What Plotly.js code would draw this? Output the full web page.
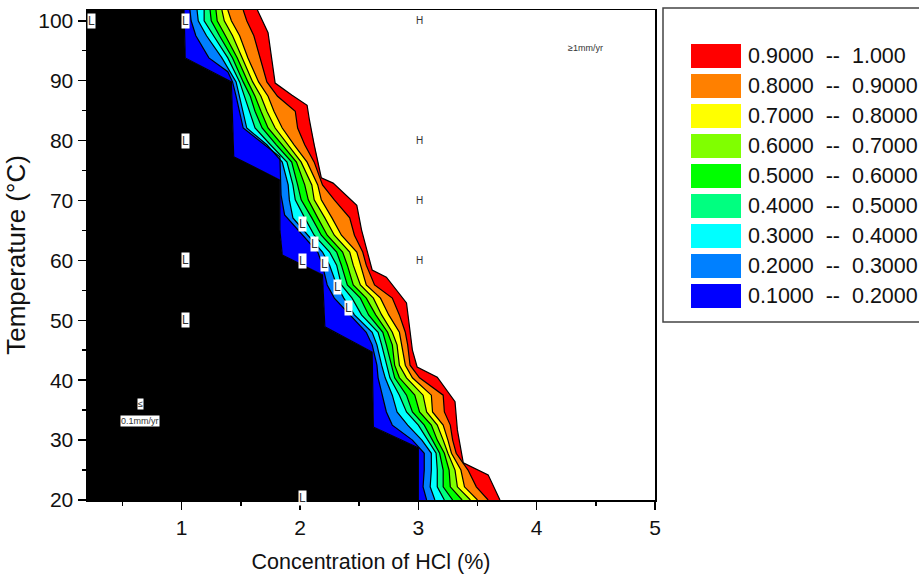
<!DOCTYPE html>
<html>
<head>
<meta charset="utf-8">
<script src="https://cdn.plot.ly/plotly-3.0.1.min.js"></script>
<style>html,body{margin:0;padding:0;background:#fff;}#chart{width:919px;height:574px;}</style>
</head>
<body>
<div id="chart"></div>
<script>
// ---- data: isocorrosion boundaries (concentration of HCl %, temperature °C) ----
// level 0.1 boundary
const iso01T = [101.8, 93.8, 89.8, 77.3, 73.4, 65.1, 60.9, 57.6, 48.9, 44.7, 32.2, 28.7, 20.0];
const iso01C = [1.02, 1.03, 1.42, 1.44, 1.83, 1.83, 1.85, 2.19, 2.21, 2.61, 2.62, 3.00, 3.00];
// level 0.2 boundary
const iso02T = [101.8, 100.0, 97.5, 93.8, 91.5, 89.8, 87.4, 82.1, 77.3, 70.9, 67.6, 61.4, 59.2, 55.9, 53.7, 48.0, 45.9, 42.5, 40.4, 34.7, 32.5, 30.0, 27.8, 25.0, 22.2, 20.0];
const iso02C = [1.07, 1.08, 1.12, 1.23, 1.39, 1.43, 1.46, 1.52, 1.83, 1.84, 1.87, 2.15, 2.19, 2.23, 2.29, 2.56, 2.61, 2.65, 2.66, 2.73, 2.78, 2.95, 3.05, 3.05, 3.04, 3.07];
// levels 0.3 ... 0.9 share the same temperature rows
const bandT = [101.8, 100.0, 97.5, 93.8, 89.8, 87.4, 84.9, 82.1, 79.3, 76.4, 72.6, 70.1, 67.1, 64.2, 61.4, 59.2, 55.9, 53.7, 50.9, 48.0, 45.9, 42.5, 40.4, 37.5, 34.7, 32.5, 30.0, 27.8, 25.0, 22.2, 20.0];
const iso03C = [1.13, 1.14, 1.21, 1.34, 1.46, 1.49, 1.52, 1.55, 1.72, 1.85, 1.90, 1.91, 1.94, 2.07, 2.19, 2.25, 2.31, 2.37, 2.46, 2.61, 2.65, 2.69, 2.72, 2.78, 2.82, 2.91, 3.03, 3.11, 3.11, 3.10, 3.14];
const iso04C = [1.19, 1.19, 1.27, 1.39, 1.49, 1.53, 1.57, 1.62, 1.75, 1.89, 1.94, 1.96, 2.04, 2.12, 2.25, 2.31, 2.35, 2.44, 2.52, 2.66, 2.69, 2.73, 2.76, 2.84, 2.90, 3.00, 3.08, 3.15, 3.16, 3.16, 3.22];
const iso05C = [1.24, 1.25, 1.32, 1.43, 1.52, 1.58, 1.62, 1.68, 1.80, 1.93, 1.98, 2.01, 2.10, 2.18, 2.31, 2.35, 2.40, 2.51, 2.58, 2.70, 2.73, 2.77, 2.80, 2.90, 2.95, 3.05, 3.12, 3.18, 3.21, 3.21, 3.29];
const iso06C = [1.29, 1.30, 1.37, 1.47, 1.56, 1.62, 1.67, 1.73, 1.85, 1.97, 2.04, 2.07, 2.15, 2.23, 2.36, 2.40, 2.45, 2.56, 2.64, 2.74, 2.78, 2.80, 2.84, 2.97, 3.01, 3.11, 3.16, 3.22, 3.26, 3.27, 3.37];
const iso07C = [1.34, 1.36, 1.43, 1.51, 1.60, 1.67, 1.72, 1.79, 1.90, 2.01, 2.10, 2.12, 2.21, 2.29, 2.42, 2.45, 2.51, 2.62, 2.69, 2.78, 2.82, 2.84, 2.90, 3.04, 3.07, 3.16, 3.21, 3.25, 3.31, 3.33, 3.44];
const iso08C = [1.39, 1.42, 1.49, 1.56, 1.65, 1.73, 1.78, 1.85, 1.95, 2.06, 2.15, 2.18, 2.27, 2.35, 2.48, 2.51, 2.56, 2.68, 2.75, 2.84, 2.86, 2.89, 2.95, 3.11, 3.12, 3.21, 3.25, 3.28, 3.36, 3.39, 3.50];
const iso09C = [1.52, 1.55, 1.61, 1.66, 1.72, 1.81, 1.96, 1.98, 2.04, 2.12, 2.19, 2.29, 2.42, 2.46, 2.53, 2.56, 2.63, 2.78, 2.84, 2.89, 2.91, 2.93, 3.01, 3.21, 3.22, 3.27, 3.29, 3.32, 3.42, 3.49, 3.59];
// level 1.0 boundary
const iso10T = [101.8, 98.0, 89.6, 87.6, 85.9, 83.4, 79.3, 73.8, 72.9, 69.2, 65.1, 58.4, 57.2, 52.9, 45.0, 42.2, 40.5, 36.4, 31.7, 26.2, 24.2, 20.0];
const iso10C = [1.64, 1.73, 1.79, 1.93, 2.06, 2.08, 2.12, 2.18, 2.28, 2.48, 2.52, 2.61, 2.73, 2.90, 2.95, 2.99, 3.16, 3.31, 3.33, 3.38, 3.59, 3.69];

const levelColors = ['#0000FF', '#0080FF', '#00FFFF', '#00FF80', '#00FF00', '#80FF00', '#FFFF00', '#FF8000', '#FF0000'];
const legendLabels = ['0.9000\u00a0\u00a0--\u00a0\u00a01.000', '0.8000\u00a0\u00a0--\u00a0\u00a00.9000', '0.7000\u00a0\u00a0--\u00a0\u00a00.8000',
  '0.6000\u00a0\u00a0--\u00a0\u00a00.7000', '0.5000\u00a0\u00a0--\u00a0\u00a00.6000', '0.4000\u00a0\u00a0--\u00a0\u00a00.5000',
  '0.3000\u00a0\u00a0--\u00a0\u00a00.4000', '0.2000\u00a0\u00a0--\u00a0\u00a00.3000', '0.1000\u00a0\u00a0--\u00a0\u00a00.2000'];

// data-point labels
const lowC = [0.24, 1.03, 1.03, 1.03, 1.03, 2.02, 2.12, 2.02, 2.21, 2.32, 2.41, 2.02];
const lowT = [100, 100, 80, 60, 50, 66.1, 62.7, 59.9, 59.4, 55.6, 52.1, 20.4];
const highC = [3.01, 3.01, 3.01, 3.01, 5.02, 5.02, 5.02, 5.02, 5.02, 5.02];
const highT = [100, 80, 70, 60, 101.8, 70, 60, 50, 35.2, 20.2];

const xTicks = [1, 2, 3, 4, 5];
const yTicks = [20, 30, 40, 50, 60, 70, 80, 90, 100];

// ---- build ----
const FONT = 'Liberation Sans, Arial, sans-serif';
const X0 = 0.2, X1 = 5, Y0 = 20, Y1 = 101.8;
const boundaries = [
  [iso01C, iso01T], [iso02C, iso02T], [iso03C, bandT], [iso04C, bandT], [iso05C, bandT],
  [iso06C, bandT], [iso07C, bandT], [iso08C, bandT], [iso09C, bandT], [iso10C, iso10T]
];
function region(cs, ts, edge, color) {
  const x = cs.slice(), y = ts.slice();
  x.push(edge, edge); y.push(ts[ts.length - 1] - 2, ts[0] + 2);
  x.splice(0, 0, cs[0]); y.splice(0, 0, ts[0] + 2);
  x.splice(x.length - 2, 0, cs[cs.length - 1]); y.splice(y.length - 2, 0, ts[ts.length - 1] - 2);
  return {type: 'scatter', mode: 'lines', x: x, y: y, fill: 'toself', fillcolor: color,
    line: {width: 0, color: color}, hoverinfo: 'skip', showlegend: false};
}
const traces = [];
traces.push(region(iso01C, iso01T, X0 - 0.5, '#000000'));
const fillCols = levelColors.concat(['#FFFFFF']);
boundaries.forEach((b, i) => traces.push(region(b[0], b[1], X1 + 0.5, fillCols[i])));
boundaries.forEach((b) => traces.push({type: 'scatter', mode: 'lines', x: b[0], y: b[1],
  line: {color: '#000000', width: 1.2}, hoverinfo: 'skip', showlegend: false}));

const annotations = [];
lowC.forEach((c, i) => annotations.push({x: c, y: lowT[i], xref: 'x', yref: 'y', text: 'L', showarrow: false,
  font: {family: FONT, size: 12, color: '#333'}, bgcolor: '#FFFFFF', borderpad: 0}));
highC.forEach((c, i) => annotations.push({x: c, y: highT[i], xref: 'x', yref: 'y', text: 'H', showarrow: false,
  font: {family: FONT, size: 10, color: '#333'}}));
annotations.push({x: 4.41, y: 95.5, xref: 'x', yref: 'y', text: '\u22651mm/yr', showarrow: false,
  font: {family: FONT, size: 9, color: '#333'}});
annotations.push({x: 0.65, y: 36.0, xref: 'x', yref: 'y', text: '\u2264', showarrow: false,
  font: {family: FONT, size: 9, color: '#333'}, bgcolor: '#FFFFFF', borderpad: 0});
annotations.push({x: 0.65, y: 33.2, xref: 'x', yref: 'y', text: '0.1mm/yr', showarrow: false,
  font: {family: FONT, size: 9, color: '#333'}, bgcolor: '#FFFFFF', borderpad: 0});

// legend box (paper coords)
const L = 87, PW = 568, B = 500, PH = 490;
const px2x = (p) => (p - L) / PW, py2y = (p) => (B - p) / PH;
const shapes = [{type: 'rect', xref: 'paper', yref: 'paper', x0: px2x(663), x1: px2x(940), y0: py2y(322), y1: py2y(8),
  line: {color: '#444', width: 1.5}, fillcolor: 'rgba(0,0,0,0)'}];
const legendCols = levelColors.slice().reverse();
legendLabels.forEach((t, k) => {
  shapes.push({type: 'rect', xref: 'paper', yref: 'paper', x0: px2x(691), x1: px2x(741),
    y0: py2y(68 + 30 * k), y1: py2y(44 + 30 * k), line: {width: 0}, fillcolor: legendCols[k]});
  annotations.push({xref: 'paper', yref: 'paper', x: px2x(746), y: py2y(56 + 30 * k), xanchor: 'left', yanchor: 'middle',
    text: t, showarrow: false, font: {family: FONT, size: 21.5, color: '#111'}});
});

const layout = {
  width: 919, height: 574,
  margin: {l: L, r: 919 - L - PW, t: 10, b: 574 - B},
  paper_bgcolor: '#FFFFFF', plot_bgcolor: '#FFFFFF',
  showlegend: false,
  font: {family: FONT, color: '#111'},
  xaxis: {range: [X0, X1], tickvals: xTicks, ticks: 'outside', ticklen: 8, tickwidth: 1.5, tickcolor: '#000',
    linecolor: '#000', linewidth: 1.5, mirror: true, showgrid: false, zeroline: false,
    tickfont: {size: 21, family: FONT, color: '#111'},
    minor: {ticks: 'outside', ticklen: 4, tickwidth: 1.5, tickcolor: '#000', dtick: 0.5, tick0: 0, showgrid: false},
    title: {text: 'Concentration of HCl (%)', font: {size: 21.5, family: FONT, color: '#111'}}},
  yaxis: {range: [Y0, Y1], tickvals: yTicks, ticks: 'outside', ticklen: 8, tickwidth: 1.5, tickcolor: '#000',
    linecolor: '#000', linewidth: 1.5, mirror: true, showgrid: false, zeroline: false,
    tickfont: {size: 21, family: FONT, color: '#111'},
    minor: {ticks: 'outside', ticklen: 4, tickwidth: 1.5, tickcolor: '#000', dtick: 5, tick0: 0, showgrid: false},
    title: {text: 'Temperature (°C)', font: {size: 26, family: FONT, color: '#111'}}},
  shapes: shapes,
  annotations: annotations
};
Plotly.newPlot('chart', traces, layout, {staticPlot: true, displayModeBar: false});
</script>
</body>
</html>
